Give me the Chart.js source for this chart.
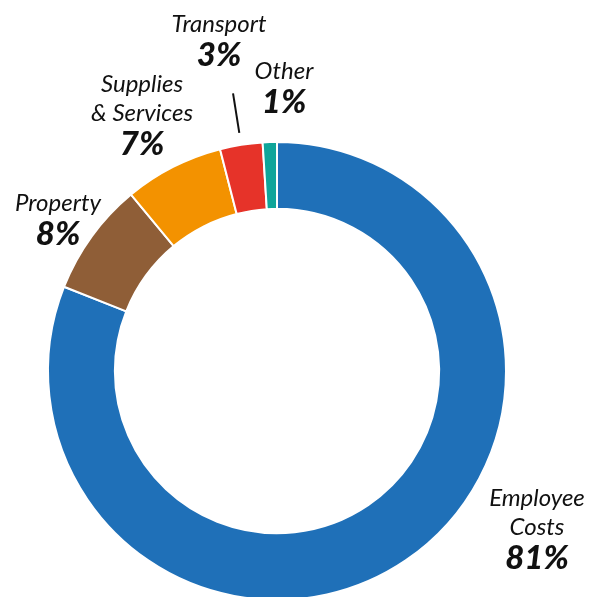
<!DOCTYPE html>
<html>
<head>
<meta charset="utf-8">
<script src="https://cdn.jsdelivr.net/npm/chart.js@4.4.0/dist/chart.umd.min.js"></script>
<style>
  html, body { margin: 0; padding: 0; background: #fff; overflow: hidden; }
  #wrap { width: 598px; height: 610px; }
</style>
</head>
<body>
<div id="wrap"><canvas id="costChart"></canvas></div>
<script>
// categories and values, clockwise from 12 o'clock
const categories = ["Employee Costs", "Property", "Supplies & Services", "Transport", "Other"];
const shares = [81, 8, 7, 3, 1];
const sliceColors = ["#1f70b8", "#8f5e37", "#f39200", "#e63329", "#0fa59a"];

// label text lines (name lines + percent)
const labelLines = [
  ["Employee", "Costs"],
  ["Property"],
  ["Supplies", "& Services"],
  ["Transport"],
  ["Other"],
];

// where each label block sits (centre x, first line y)
const labelPos = [
  { x: 537, y: 498 },
  { x: 58, y: 203 },
  { x: 142, y: 84 },
  { x: 219, y: 24 },
  { x: 284, y: 71 },
];

const labelPlugin = {
  id: "sliceLabels",
  afterDraw(chart) {
    const ctx = chart.ctx;
    const meta = chart.getDatasetMeta(0);
    ctx.save();
    ctx.fillStyle = "#111";
    ctx.textAlign = "center";
    ctx.textBaseline = "middle";
    const lineH = 29;
    labelLines.forEach((lines, i) => {
      const p = labelPos[i];
      ctx.font = "italic 400 24px Lato";
      lines.forEach((t, j) => {
        ctx.fillText(t, p.x, p.y + j * lineH);
      });
      ctx.font = "italic 900 33px Lato";
      ctx.fillText(shares[i] + "%", p.x, p.y + lines.length * lineH + 2);
    });

    // leader line for the Transport slice, along its mid angle
    const arc = meta.data[3];
    const mid = (arc.startAngle + arc.endAngle) / 2;
    const r0 = arc.outerRadius + 12;
    const r1 = arc.outerRadius + 52;
    ctx.strokeStyle = "#111";
    ctx.lineWidth = 2;
    ctx.beginPath();
    ctx.moveTo(arc.x + Math.cos(mid) * r0, arc.y + Math.sin(mid) * r0);
    ctx.lineTo(arc.x + Math.cos(mid) * r1, arc.y + Math.sin(mid) * r1);
    ctx.stroke();
    ctx.restore();
  },
};

const ctx = document.getElementById("costChart").getContext("2d");
new Chart(ctx, {
  type: "doughnut",
  data: {
    labels: categories,
    datasets: [
      {
        data: shares,
        backgroundColor: sliceColors,
        borderColor: "#fff",
        borderWidth: 2,
      },
    ],
  },
  options: {
    responsive: true,
    maintainAspectRatio: false,
    animation: false,
    cutout: "70.8%",
    rotation: 0,
    layout: {
      padding: { left: 47, right: 91, top: 141, bottom: 9 },
    },
    plugins: {
      legend: { display: false },
      tooltip: { enabled: false },
    },
  },
  plugins: [labelPlugin],
});
</script>
</body>
</html>
